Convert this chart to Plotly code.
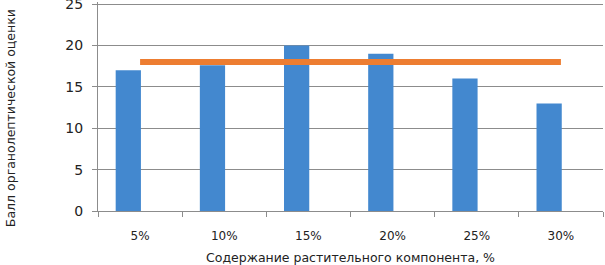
import plotly.graph_objects as go

categories = ["5%", "10%", "15%", "20%", "25%", "30%"]
scores = [17, 17.6, 20, 19, 16, 13]
reference_level = [18, 18, 18, 18, 18, 18]
y_ticks = [0, 5, 10, 15, 20, 25]

font = "DejaVu Sans"
fig = go.Figure()
fig.add_trace(go.Bar(
    x=categories, y=scores, width=0.3, offset=-0.29,
    marker=dict(color="#4388cf", line=dict(width=0)),
))
fig.add_trace(go.Scatter(
    x=categories, y=reference_level, mode="lines",
    line=dict(color="#ed7d31", width=6),
))
fig.update_layout(
    width=605, height=265,
    margin=dict(l=98, r=2, t=2, b=54),
    plot_bgcolor="white", paper_bgcolor="white",
    showlegend=False,
    font=dict(family=font, size=12, color="#222"),
    xaxis=dict(
        automargin=False,
        tickson="boundaries", ticks="outside", ticklen=5, tickcolor="#8c8c8c",
        showline=True, linecolor="#8c8c8c", linewidth=1, showgrid=False,
        tickfont=dict(size=12), ticklabelstandoff=14,
        title=dict(text="Содержание растительного компонента, %", font=dict(size=12.5), standoff=10),
    ),
    yaxis=dict(
        automargin=False,
        range=[0, 25.25], tickvals=y_ticks, ticks="outside", ticklen=5, tickcolor="#8c8c8c",
        showline=True, linecolor="#8c8c8c", linewidth=1,
        showgrid=True, gridcolor="#8c8c8c", gridwidth=1,
        tickfont=dict(size=14), ticklabelstandoff=6, ticklabeloverflow="allow",
        zeroline=False,
    ),
    annotations=[dict(
        text="Балл органолептической оценки", textangle=-90,
        xref="paper", yref="paper", x=-0.172, y=0.445,
        xanchor="center", yanchor="middle", showarrow=False,
        font=dict(size=12.5),
    )],
)
fig.write_html("out.html", config={"displayModeBar": False},
               post_script="document.body.style.margin='0px';document.body.style.padding='0px';")
